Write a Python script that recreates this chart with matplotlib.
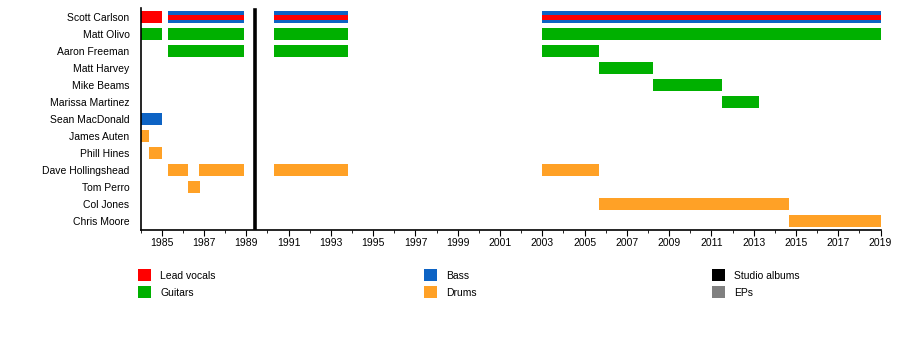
import matplotlib.pyplot as plt
from matplotlib.patches import Rectangle

plt.rcParams['font.family'] = ['Liberation Sans', 'DejaVu Sans']

members = ['Scott Carlson', 'Matt Olivo', 'Aaron Freeman', 'Matt Harvey', 'Mike Beams',
           'Marissa Martinez', 'Sean MacDonald', 'James Auten', 'Phill Hines',
           'Dave Hollingshead', 'Tom Perro', 'Col Jones', 'Chris Moore']

role_names = ['Lead vocals', 'Guitars', 'Bass', 'Drums', 'Studio albums', 'EPs']
role_colors = ['#ff0000', '#00b000', '#0d63c4', '#ffa126', '#000000', '#808080']

# main bars
bar_member = ['Scott Carlson', 'Scott Carlson', 'Scott Carlson', 'Scott Carlson',
              'Matt Olivo', 'Matt Olivo', 'Matt Olivo', 'Matt Olivo',
              'Aaron Freeman', 'Aaron Freeman', 'Aaron Freeman',
              'Matt Harvey', 'Mike Beams', 'Marissa Martinez',
              'Sean MacDonald', 'James Auten', 'Phill Hines',
              'Dave Hollingshead', 'Dave Hollingshead', 'Dave Hollingshead', 'Dave Hollingshead',
              'Tom Perro', 'Col Jones', 'Chris Moore']
bar_role = ['Lead vocals', 'Bass', 'Bass', 'Bass',
            'Guitars', 'Guitars', 'Guitars', 'Guitars',
            'Guitars', 'Guitars', 'Guitars',
            'Guitars', 'Guitars', 'Guitars',
            'Bass', 'Drums', 'Drums',
            'Drums', 'Drums', 'Drums', 'Drums',
            'Drums', 'Drums', 'Drums']
bar_start = [1984.0, 1985.3, 1990.3, 2003.0,
             1984.0, 1985.3, 1990.3, 2003.0,
             1985.3, 1990.3, 2003.0,
             2005.7, 2008.25, 2011.5,
             1984.0, 1984.0, 1984.38,
             1985.3, 1986.75, 1990.3, 2003.0,
             1986.25, 2005.7, 2014.65]
bar_end = [1985.0, 1988.9, 1993.8, 2019.0,
           1985.0, 1988.9, 1993.8, 2019.0,
           1988.9, 1993.8, 2005.7,
           2008.25, 2011.5, 2013.27,
           1985.0, 1984.42, 1985.0,
           1986.25, 1988.9, 1993.8, 2005.7,
           1986.8, 2014.65, 2019.0]

# thin stripes for secondary role
stripe_member = ['Scott Carlson', 'Scott Carlson', 'Scott Carlson']
stripe_role = ['Lead vocals', 'Lead vocals', 'Lead vocals']
stripe_start = [1985.3, 1990.3, 2003.0]
stripe_end = [1988.9, 1993.8, 2019.0]

studio_albums = [1989.39]

color_of = dict(zip(role_names, role_colors))
row_of = {m: i for i, m in enumerate(members)}

fig = plt.figure(figsize=(9, 3.46), dpi=100)
ax = fig.add_axes([140.6 / 900, 1 - 230 / 346, 740 / 900, 222 / 346])

for m, r, s, e in zip(bar_member, bar_role, bar_start, bar_end):
    ax.barh(row_of[m], e - s, left=s, height=0.7, color=color_of[r], linewidth=0)
for m, r, s, e in zip(stripe_member, stripe_role, stripe_start, stripe_end):
    ax.barh(row_of[m] + 0.03, e - s, left=s, height=0.24, color=color_of[r], linewidth=0)

for a in studio_albums:
    ax.axvline(a, color=color_of['Studio albums'], linewidth=2.6, ymin=0.01, ymax=0.99)

ax.set_xlim(1984, 2019)
ax.set_ylim(12.53, -0.53)
ax.set_yticks(range(len(members)))
ax.set_yticklabels(members, fontsize=7.5)
ax.tick_params(axis='y', length=0, pad=8)
ax.set_xticks(range(1985, 2020, 2))
ax.set_xticklabels([str(y) for y in range(1985, 2020, 2)], fontsize=7.5)
ax.set_xticks(range(1984, 2020), minor=True)
ax.tick_params(axis='x', which='major', length=4, pad=2)
ax.tick_params(axis='x', which='minor', length=2.5)
ax.spines['top'].set_visible(False)
ax.spines['right'].set_visible(False)
ax.spines['left'].set_linewidth(1.2)
ax.spines['bottom'].set_linewidth(1.2)

# legend, three columns of two
col_x = [138, 424, 712]
row_y = [274.5, 291.7]
for i, (name, col) in enumerate(zip(role_names, role_colors)):
    x = col_x[i // 2]
    y = row_y[i % 2]
    fig.patches.append(Rectangle((x / 900, 1 - (y + 6) / 346), 12.5 / 900, 12 / 346,
                                 transform=fig.transFigure, color=col, linewidth=0))
    fig.text((x + 22.5) / 900, 1 - (y + 1.2) / 346, name, fontsize=7.5, va='center', ha='left')

fig.savefig('out.png', dpi=100)
